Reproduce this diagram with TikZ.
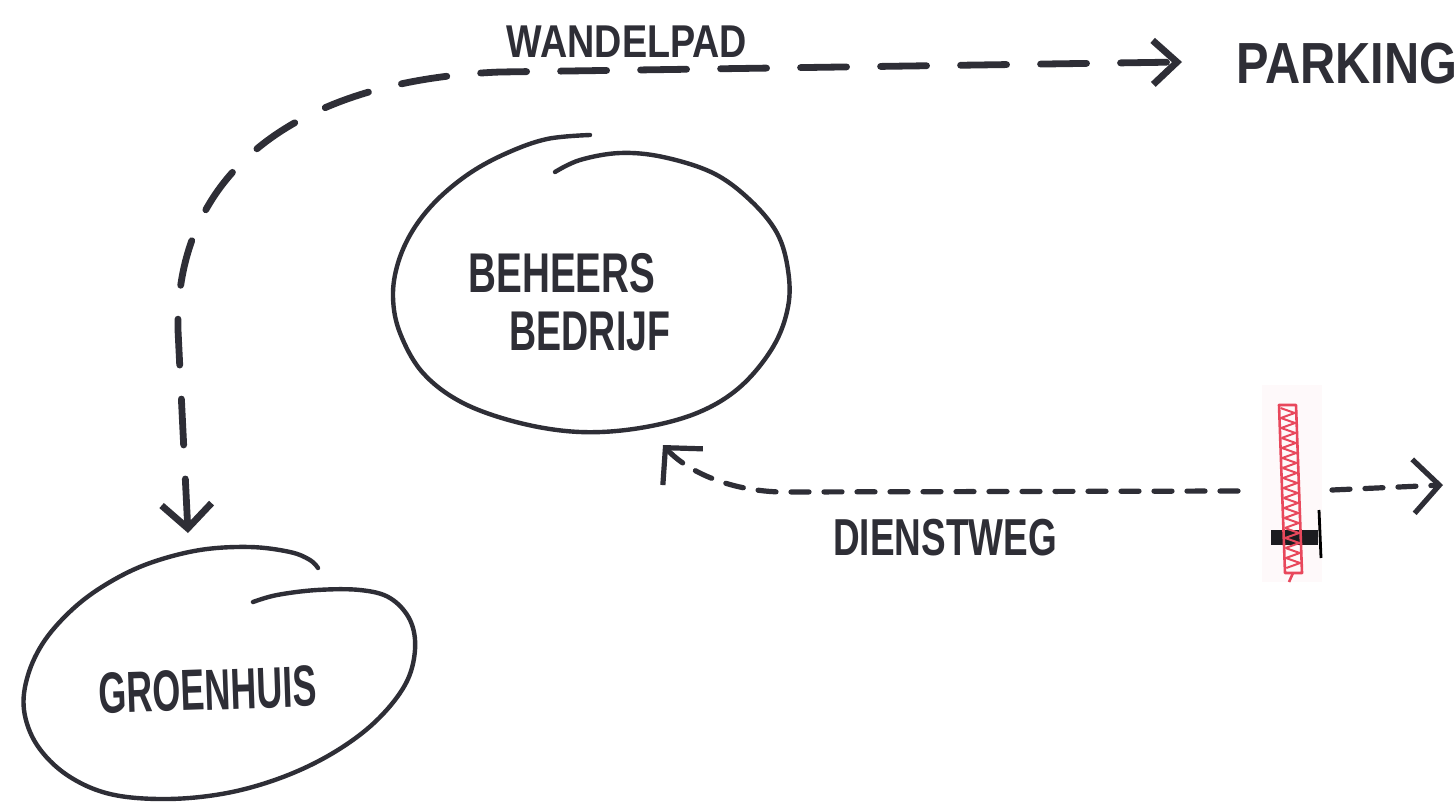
\documentclass[tikz,border=0pt]{standalone}
\usepackage{fontspec}
\setmainfont{Liberation Sans}
\usetikzlibrary{arrows.meta}
\definecolor{ink}{RGB}{46,46,54}
\definecolor{redink}{RGB}{232,72,92}
\newcommand{\hand}[2]{\scalebox{#1}[1]{#2}}
\begin{document}
\begin{tikzpicture}[x=0.5pt,y=-0.5pt,
  spiral/.style={draw=ink, line width=2.2pt, line cap=round, line join=round},
  lbl/.style={text=ink, inner sep=0pt, font=\bfseries},
  walkpath/.style={draw=ink, line width=3.4pt, line cap=round, dash pattern=on 23pt off 17pt,
     {Straight Barb[length=12pt,width=25pt]}-{Straight Barb[length=12pt,width=22pt]}},
  service/.style={draw=ink, line width=2.6pt, line cap=round, dash pattern=on 9pt off 7.5pt,
     -{Straight Barb[length=13pt,width=27pt]}},
]
\useasboundingbox (0,0) rectangle (1456,803);
\clip (0,0) rectangle (1456,803);
\fill[white] (0,0) rectangle (1456,803);

% Beheersbedrijf loop
\draw[spiral] plot[smooth, tension=0.6] coordinates {
 (555,172) (580,160) (620,153) (663,157) (713,173) (750,200) (777,233) (788,270)
 (788,307) (773,347) (740,387) (697,413) (640,428) (580,432) (520,423) (463,403)
 (423,373) (400,333) (393,297) (398,263) (413,230) (437,200) (470,173) (507,153)
 (547,139) (590,135)};
\node[lbl, font=\bfseries\fontsize{28}{28}\selectfont] (beh1) at (562,273) {\hand{0.69}{BEHEERS}};
\node[lbl, font=\bfseries\fontsize{28}{28}\selectfont] (beh2) at (590,332) {\hand{0.67}{BEDRIJF}};

% Groenhuis loop
\draw[spiral] plot[smooth, tension=0.6] coordinates {
 (253,602) (277,595) (317,590) (360,590) (390,598) (410,620) (415,650) (405,685)
 (375,722) (333,753) (283,777) (227,793) (167,799) (110,794) (67,775) (37,745)
 (24,710) (28,675) (45,640) (75,607) (110,582) (150,563) (200,550) (250,547)
 (290,552) (310,560) (318,568)};
\node[lbl, font=\bfseries\fontsize{29}{29}\selectfont, rotate=2] (groen) at (208,690) {\hand{0.62}{GROENHUIS}};

% labels
\node[lbl, font=\bfseries\fontsize{23}{23}\selectfont] (wp) at (627,42) {\hand{0.82}{WANDELPAD}};
\node[lbl, font=\bfseries\fontsize{29}{29}\selectfont, anchor=west] (park) at (1236,64) {\hand{0.84}{PARKING}};
\node[lbl, font=\bfseries\fontsize{26}{26}\selectfont] (dw) at (945,538) {\hand{0.71}{DIENSTWEG}};

% connector end points
\coordinate (ghIn) at (188,533);
\coordinate (parkIn) at (1182,62);
\coordinate (behIn) at (663,445);
\coordinate (barW) at (1238,491);
\coordinate (barE) at (1332,490);
\coordinate (exitE) at (1443,485);

% wandelpad
\draw[walkpath] (ghIn) -- (178,330) .. controls (175,170) and (300,80) .. (500,72) -- (parkIn);

% dienstweg
\draw[service] (barW) -- (780,492) .. controls (720,490) and (682,466) .. (behIn);
\draw[service] (barE) -- (exitE);

% barrier
\fill[redink!3] (1262,385) rectangle (1322,582);
\fill[ink!60!black] (1271,530) rectangle (1318,545);
\draw[black, line width=1.4pt] (1319,510) -- (1321,558);
\draw[redink, line width=1.3pt, line join=round] (1279,405) -- (1285,573) -- (1302,573) -- (1296,405) -- cycle;
\foreach \i in {0,...,15} {
  \draw[redink, line width=1pt] ({1280.5+(\i*10)*0.036},{408+\i*10}) -- ({1294.5+(\i*10+5)*0.036},{413+\i*10})
     -- ({1280.5+(\i*10+10)*0.036},{418+\i*10});
}
\draw[redink, line width=1.3pt] (1293,573) -- (1289,582);
\end{tikzpicture}
\end{document}
